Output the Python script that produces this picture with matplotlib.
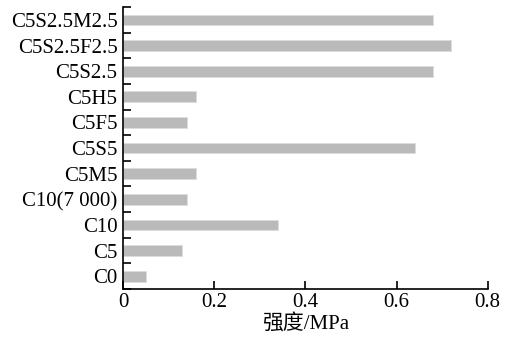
import numpy as np
import matplotlib as mpl
mpl.use('Agg')
import matplotlib.pyplot as plt

# strength of each mix, bottom to top
labels = ['C0', 'C5', 'C10', 'C10(7 000)', 'C5M5', 'C5S5', 'C5F5', 'C5H5',
          'C5S2.5', 'C5S2.5F2.5', 'C5S2.5M2.5']
strength = [0.05, 0.13, 0.34, 0.14, 0.16, 0.64, 0.14, 0.16, 0.68, 0.72, 0.68]
xticks = [0, 0.2, 0.4, 0.6, 0.8]

plt.rcParams['font.family'] = ['Liberation Serif', 'Noto Sans CJK SC']
plt.rcParams['font.size'] = 15

fig = plt.figure(figsize=(5.13, 3.39), dpi=100)
ax = fig.add_axes([0.2398, 0.1475, 0.7109, 0.8315])

y = np.arange(len(labels))
ax.barh(y, strength, height=0.42, color='#bababa', edgecolor='#dcdcdc', linewidth=0.6)

ax.set_ylim(-0.5, len(labels) - 0.5)
ax.set_xlim(0, 0.8)
ax.set_yticks(y)
ax.set_yticklabels(labels)
ax.set_yticks(np.arange(-0.5, len(labels), 1), minor=True)
ax.tick_params(axis='y', which='major', length=0, pad=4)
ax.tick_params(axis='y', which='minor', direction='in', length=6, width=1.2)
ax.set_xticks(xticks)
ax.set_xticklabels(['0', '0.2', '0.4', '0.6', '0.8'])
ax.tick_params(axis='x', direction='in', length=6, width=1.2, pad=3)
ax.set_xlabel('强度/MPa', labelpad=1)

for s in ['top', 'right']:
    ax.spines[s].set_visible(False)
for s in ['left', 'bottom']:
    ax.spines[s].set_linewidth(1.2)

plt.savefig('out.png', dpi=100)
